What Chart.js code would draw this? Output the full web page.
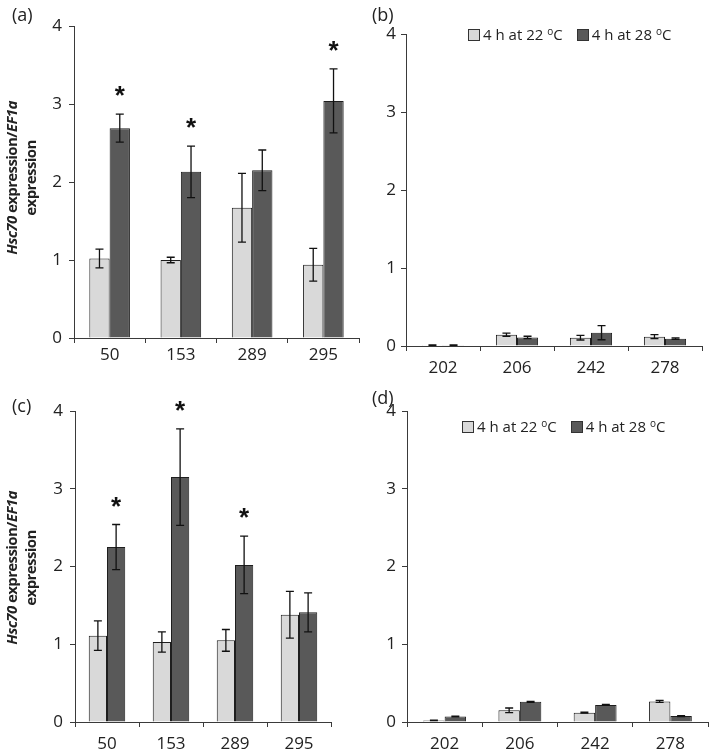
<!DOCTYPE html>
<html>
<head>
<meta charset="utf-8">
<script src="https://cdn.jsdelivr.net/npm/chart.js@4.4.0/dist/chart.umd.min.js"></script>
<style>
body { margin: 0; background: #fff; }
#wrap { position: relative; width: 709px; height: 755px; overflow: hidden; font-family: "Open Sans", sans-serif; color: #222; }
canvas { position: absolute; }
.lbl { position: absolute; font-size: 18px; line-height: 20px; }
.ytitle { position: absolute; width: 200px; height: 38px; line-height: 19px; font-size: 15px; font-weight: bold; text-align: center; transform: rotate(-90deg); white-space: nowrap; letter-spacing: -0.6px; }
.legend { position: absolute; font-size: 15px; line-height: 16px; white-space: nowrap; }
.legend .box { display: inline-block; width: 10px; height: 10px; border: 1px solid #333; vertical-align: -1px; margin-right: 3px; }
.legend .item { margin-right: 14px; }
.legend sup { font-size: 10px; vertical-align: 5px; line-height: 0; }
</style>
</head>
<body>
<div id="wrap">
  <canvas id="chartA" width="365" height="370" style="left:0;top:0"></canvas>
  <canvas id="chartB" width="349" height="385" style="left:360px;top:0"></canvas>
  <canvas id="chartC" width="365" height="385" style="left:0;top:370px"></canvas>
  <canvas id="chartD" width="349" height="385" style="left:360px;top:370px"></canvas>

  <div class="lbl" style="left:12px;top:4px">(a)</div>
  <div class="lbl" style="left:372px;top:4px">(b)</div>
  <div class="lbl" style="left:12px;top:395px">(c)</div>
  <div class="lbl" style="left:372px;top:387px">(d)</div>

  <div class="ytitle" style="left:-79px;top:159px"><i>Hsc70</i> expression/<i>EF1a</i><br>expression</div>
  <div class="ytitle" style="left:-79px;top:549px"><i>Hsc70</i> expression/<i>EF1a</i><br>expression</div>

  <div class="legend" style="left:468px;top:26px"><span class="item"><span class="box" style="background:#d9d9d9"></span>4 h at 22 <sup>o</sup>C</span><span><span class="box" style="background:#595959"></span>4 h at 28 <sup>o</sup>C</span></div>
  <div class="legend" style="left:462px;top:418px"><span class="item"><span class="box" style="background:#d9d9d9"></span>4 h at 22 <sup>o</sup>C</span><span><span class="box" style="background:#595959"></span>4 h at 28 <sup>o</sup>C</span></div>
</div>
<script>
// categories
var labelsAC = ['50', '153', '289', '295'];
var labelsBD = ['202', '206', '242', '278'];
var yTicks = [0, 1, 2, 3, 4];

// (a)
var a22 = [1.02, 1.00, 1.67, 0.94];
var a22err = [0.12, 0.035, 0.44, 0.21];
var a28 = [2.69, 2.13, 2.15, 3.04];
var a28err = [0.18, 0.33, 0.26, 0.41];
var aStar = [1, 1, 0, 1];

// (b)
var b22 = [0.01, 0.145, 0.107, 0.12];
var b22err = [0.003, 0.02, 0.03, 0.025];
var b28 = [0.01, 0.11, 0.17, 0.094];
var b28err = [0.003, 0.015, 0.09, 0.01];

// (c)
var c22 = [1.11, 1.03, 1.05, 1.38];
var c22err = [0.19, 0.13, 0.14, 0.30];
var c28 = [2.25, 3.15, 2.02, 1.41];
var c28err = [0.29, 0.62, 0.37, 0.25];
var cStar = [1, 1, 1, 0];

// (d)
var d22 = [0.02, 0.15, 0.12, 0.265];
var d22err = [0.003, 0.03, 0.006, 0.012];
var d28 = [0.07, 0.26, 0.22, 0.077];
var d28err = [0.005, 0.006, 0.006, 0.006];

Chart.defaults.font.family = '"Open Sans", sans-serif';
Chart.defaults.color = '#222';

var axisCol = '#3a3a3a';

// error bars + significance stars
var errorBars = {
    id: 'errorBars',
    afterDatasetsDraw: function(chart) {
        var ctx = chart.ctx;
        var yScale = chart.scales.y;
        chart.data.datasets.forEach(function(ds, i) {
            var meta = chart.getDatasetMeta(i);
            meta.data.forEach(function(bar, j) {
                var v = ds.data[j];
                var e = ds.errors[j];
                var yt = yScale.getPixelForValue(v + e);
                var yb = yScale.getPixelForValue(v - e);
                ctx.save();
                ctx.strokeStyle = '#111';
                ctx.lineWidth = 1.3;
                ctx.beginPath();
                ctx.moveTo(bar.x, yt); ctx.lineTo(bar.x, yb);
                ctx.moveTo(bar.x - 4, yt); ctx.lineTo(bar.x + 4, yt);
                ctx.moveTo(bar.x - 4, yb); ctx.lineTo(bar.x + 4, yb);
                ctx.stroke();
                if (ds.stars && ds.stars[j]) {
                    ctx.fillStyle = '#111';
                    ctx.font = 'bold 26px "Liberation Sans"';
                    ctx.textAlign = 'center';
                    ctx.textBaseline = 'alphabetic';
                    ctx.fillText('*', bar.x, yt - 10);
                }
                ctx.restore();
            });
        });
    }
};

function make_chart(id, labels, v22, e22, v28, e28, stars, box) {
    new Chart(document.getElementById(id), {
        type: 'bar',
        data: {
            labels: labels,
            datasets: [{
                label: '4 h at 22 oC',
                data: v22,
                errors: e22,
                backgroundColor: '#d9d9d9',
                borderColor: '#1e1e1e',
                borderWidth: 1,
                categoryPercentage: 0.57,
                barPercentage: 1.0
            },
            {
                label: '4 h at 28 oC',
                data: v28,
                errors: e28,
                stars: stars,
                backgroundColor: '#595959',
                borderColor: '#1e1e1e',
                borderWidth: 1,
                categoryPercentage: 0.57,
                barPercentage: 1.0
            }]
        },
        options: {
            responsive: false,
            animation: false,
            events: [],
            layout: { padding: { top: box.top, right: box.right, left: 0, bottom: 0 } },
            plugins: { legend: { display: false }, tooltip: { enabled: false } },
            scales: {
                x: {
                    grid: { offset: true, drawOnChartArea: false, tickLength: 5, color: axisCol },
                    border: { color: axisCol, width: 1 },
                    ticks: { font: { size: 17 }, padding: box.xpad, color: '#222' },
                    afterFit: function(s) { s.height = box.xh; }
                },
                y: {
                    min: 0,
                    max: 4,
                    afterBuildTicks: function(s) { s.ticks = yTicks.map(function(t) { return { value: t }; }); },
                    grid: { drawOnChartArea: false, tickLength: 5, color: axisCol },
                    border: { color: axisCol, width: 1 },
                    ticks: { font: { size: 17 }, padding: box.ypad, color: '#222' },
                    afterFit: function(s) { s.width = box.yw; }
                }
            }
        },
        plugins: [errorBars]
    });
}

make_chart('chartA', labelsAC, a22, a22err, a28, a28err, aStar, { top: 26, right: 6, xh: 32, yw: 74, xpad: 2, ypad: 7 });
make_chart('chartB', labelsBD, b22, b22err, b28, b28err, null, { top: 34, right: 7, xh: 39, yw: 46, xpad: 7, ypad: 5 });
make_chart('chartC', labelsAC, c22, c22err, c28, c28err, cStar, { top: 41, right: 34, xh: 33, yw: 75, xpad: 7, ypad: 7 });
make_chart('chartD', labelsBD, d22, d22err, d28, d28err, null, { top: 41, right: 1, xh: 33, yw: 47, xpad: 7, ypad: 6 });
</script>
</body>
</html>
